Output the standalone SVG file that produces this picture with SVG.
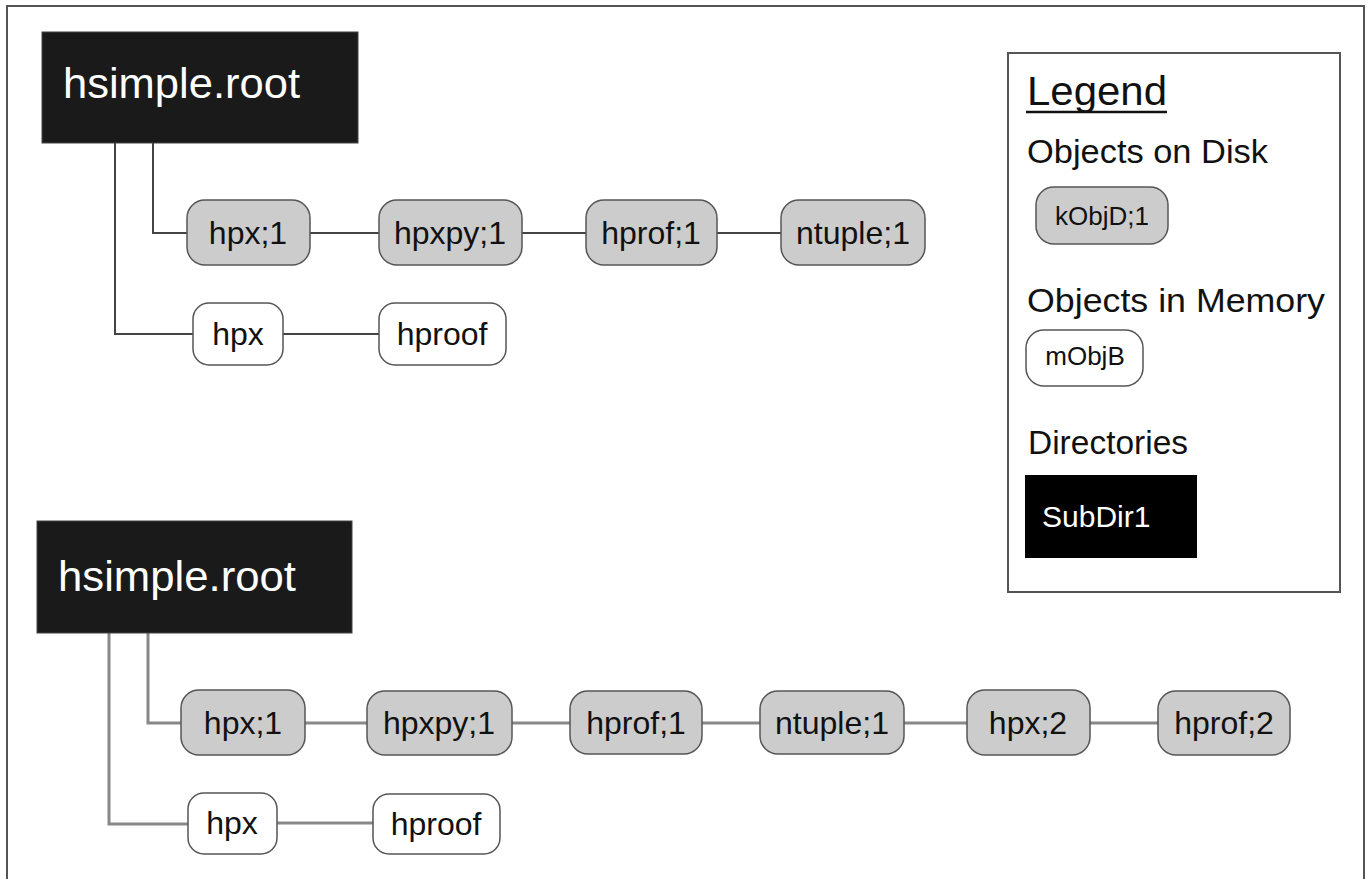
<svg xmlns="http://www.w3.org/2000/svg" width="1370" height="879" viewBox="0 0 1370 879">
<style>
text{font-family:"Liberation Sans",Arial,sans-serif}
.dir{fill:#1a1a1a;stroke:#444;stroke-width:1}
.dirt{fill:#fff;font-size:42px}
.disk{fill:#cccccc;stroke:#555;stroke-width:1.5}
.mem{fill:#fff;stroke:#555;stroke-width:1.5}
.nt{fill:#111;font-size:32px;text-anchor:middle}
.c1{fill:none;stroke:#444;stroke-width:2}
.c2{fill:none;stroke:#888;stroke-width:3}
.lg{fill:#111;font-size:34px}
</style>
<rect x="7" y="6" width="1357" height="890" fill="#fff" stroke="#555" stroke-width="2"/>
<g id="connectors">
<path class="c1" d="M153,127 V233 H187"/>
<path class="c1" d="M115,135 V334 H193"/>
<path class="c1" d="M310,233 H379 M522,233 H586 M717,233 H781"/>
<path class="c1" d="M283,334 H379"/>
<path class="c2" d="M148,617 V723 H181"/>
<path class="c2" d="M109,626 V824 H188"/>
<path class="c2" d="M305,723 H367 M512,723 H570 M702,723 H760 M904,723 H967 M1090,723 H1158"/>
<path class="c2" d="M277,823 H373"/>
</g>
<g id="root1"><rect class="dir" x="42" y="32" width="316" height="111"/><text class="dirt" x="63" y="98" textLength="237" lengthAdjust="spacingAndGlyphs">hsimple.root</text></g>
<g id="t_hpx1"><rect class="disk" x="187" y="200" width="123" height="65" rx="18"/><text class="nt" x="248" y="244">hpx;1</text></g>
<g id="t_hpxpy1"><rect class="disk" x="379" y="200" width="143" height="65" rx="18"/><text class="nt" x="450" y="244">hpxpy;1</text></g>
<g id="t_hprof1"><rect class="disk" x="586" y="200" width="131" height="65" rx="18"/><text class="nt" x="651" y="244">hprof;1</text></g>
<g id="t_ntuple1"><rect class="disk" x="781" y="200" width="144" height="65" rx="18"/><text class="nt" x="853" y="244">ntuple;1</text></g>
<g id="t_hpx"><rect class="mem" x="193" y="303" width="90" height="62" rx="16"/><text class="nt" x="238" y="345">hpx</text></g>
<g id="t_hproof"><rect class="mem" x="379" y="303" width="127" height="62" rx="16"/><text class="nt" x="442" y="345">hproof</text></g>
<g id="root2"><rect class="dir" x="37" y="521" width="315" height="112"/><text class="dirt" x="58" y="591" textLength="238" lengthAdjust="spacingAndGlyphs">hsimple.root</text></g>
<g id="b_hpx1"><rect class="disk" x="181" y="690" width="124" height="65" rx="18"/><text class="nt" x="243" y="734">hpx;1</text></g>
<g id="b_hpxpy1"><rect class="disk" x="367" y="691" width="145" height="64" rx="18"/><text class="nt" x="439" y="734">hpxpy;1</text></g>
<g id="b_hprof1"><rect class="disk" x="570" y="691" width="132" height="63" rx="18"/><text class="nt" x="636" y="734">hprof;1</text></g>
<g id="b_ntuple1"><rect class="disk" x="760" y="691" width="144" height="63" rx="18"/><text class="nt" x="832" y="734">ntuple;1</text></g>
<g id="b_hpx2"><rect class="disk" x="967" y="690" width="123" height="65" rx="18"/><text class="nt" x="1028" y="734">hpx;2</text></g>
<g id="b_hprof2"><rect class="disk" x="1158" y="691" width="132" height="64" rx="18"/><text class="nt" x="1224" y="734">hprof;2</text></g>
<g id="b_hpx"><rect class="mem" x="188" y="793" width="89" height="61" rx="16"/><text class="nt" x="232" y="834">hpx</text></g>
<g id="b_hproof"><rect class="mem" x="373" y="794" width="127" height="60" rx="16"/><text class="nt" x="436" y="835">hproof</text></g>
<g id="legend">
<rect x="1008" y="53" width="332" height="539" fill="#fff" stroke="#555" stroke-width="2"/>
<text class="lg" x="1027" y="105" font-size="40" textLength="140" lengthAdjust="spacingAndGlyphs" style="font-size:40px">Legend</text>
<line x1="1026" y1="112" x2="1167" y2="112" stroke="#111" stroke-width="2.5"/>
<text class="lg" x="1027" y="163" textLength="241" lengthAdjust="spacingAndGlyphs">Objects on Disk</text>
<rect class="disk" x="1036" y="187" width="132" height="57" rx="18"/>
<text class="nt" x="1102" y="225" style="font-size:26px">kObjD;1</text>
<text class="lg" x="1027" y="312" textLength="298" lengthAdjust="spacingAndGlyphs">Objects in Memory</text>
<rect class="mem" x="1026" y="330" width="117" height="56" rx="18"/>
<text class="nt" x="1085" y="365" style="font-size:26px">mObjB</text>
<text class="lg" x="1028" y="454" textLength="160" lengthAdjust="spacingAndGlyphs">Directories</text>
<rect x="1025" y="475" width="172" height="83" fill="#000"/>
<text x="1042" y="527" fill="#fff" style="font-size:30px">SubDir1</text>
</g>
</svg>
